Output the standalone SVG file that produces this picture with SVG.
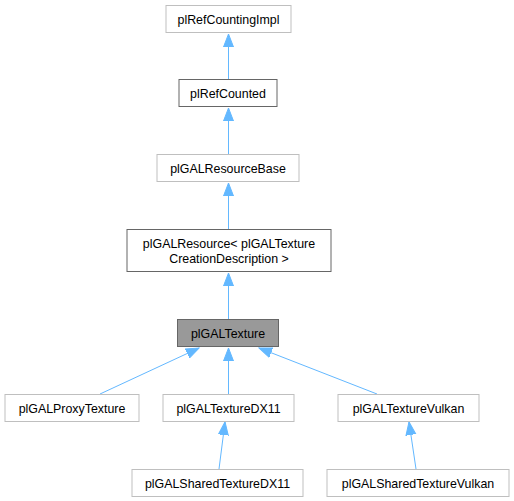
<svg xmlns="http://www.w3.org/2000/svg" width="514" height="501" viewBox="0 0 514 501">
<style>
.n rect{fill:#fff;stroke:#bfbfbf;stroke-width:1}
.n.d rect{stroke:#666}
.n.c rect{fill:#999;stroke:#666}
text{font-family:"Liberation Sans",Arial,sans-serif;font-size:12.4px;fill:#000;text-anchor:middle}
.e line{stroke:#63b8ff;stroke-width:1;marker-end:url(#a)}
</style>
<defs>
<marker id="a" markerUnits="userSpaceOnUse" markerWidth="14" markerHeight="12" refX="13" refY="5.5" orient="auto">
<path d="M0,0.5 L13,5.5 L0,10.5 Z" fill="#63b8ff" stroke="#63b8ff" stroke-width="1"/>
</marker>
</defs>
<rect width="514" height="501" fill="#fff"/>
<g class="e">
<line x1="228.5" y1="79" x2="228.5" y2="34"/>
<line x1="228.5" y1="154" x2="228.5" y2="108"/>
<line x1="228.5" y1="229" x2="228.5" y2="183"/>
<line x1="228.5" y1="319" x2="228.5" y2="273"/>
<line x1="100" y1="394" x2="199" y2="348"/>
<line x1="228.5" y1="394" x2="228.5" y2="348"/>
<line x1="377" y1="394" x2="259" y2="348"/>
<line x1="219" y1="469" x2="225" y2="422"/>
<line x1="416" y1="469" x2="409" y2="422"/>
</g>
<g id="plRefCountingImpl" class="n"><rect x="166" y="5.5" width="125" height="27"/><text x="228.5" y="23.5">plRefCountingImpl</text></g>
<g id="plRefCounted" class="n d"><rect x="179" y="79.5" width="98" height="27"/><text x="228" y="97.5">plRefCounted</text></g>
<g id="plGALResourceBase" class="n"><rect x="157" y="154.5" width="142" height="27"/><text x="228" y="172.5">plGALResourceBase</text></g>
<g id="plGALResource" class="n d"><rect x="127" y="229.5" width="204" height="42"/><text x="229" y="247.5">plGALResource&lt; plGALTexture</text><text x="229" y="262.5">CreationDescription &gt;</text></g>
<g id="plGALTexture" class="n c"><rect x="177.5" y="319.5" width="101" height="27"/><text x="228" y="337.5">plGALTexture</text></g>
<g id="plGALProxyTexture" class="n"><rect x="5" y="394.5" width="134" height="27"/><text x="72" y="412.5">plGALProxyTexture</text></g>
<g id="plGALTextureDX11" class="n"><rect x="163" y="394.5" width="131" height="27"/><text x="228.5" y="412.5">plGALTextureDX11</text></g>
<g id="plGALTextureVulkan" class="n"><rect x="338" y="394.5" width="141" height="27"/><text x="408.5" y="412.5">plGALTextureVulkan</text></g>
<g id="plGALSharedTextureDX11" class="n"><rect x="132" y="469.5" width="171" height="27"/><text x="217.5" y="487.5">plGALSharedTextureDX11</text></g>
<g id="plGALSharedTextureVulkan" class="n"><rect x="327" y="469.5" width="182" height="27"/><text x="418" y="487.5">plGALSharedTextureVulkan</text></g>
</svg>
